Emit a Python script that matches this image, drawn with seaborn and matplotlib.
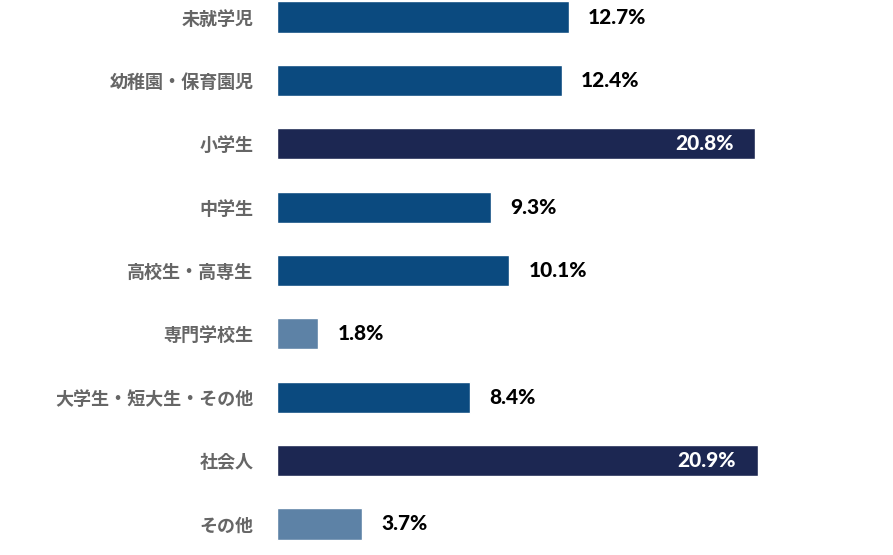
import matplotlib
matplotlib.use('Agg')
import matplotlib.pyplot as plt
import seaborn as sns
import pandas as pd

categories = ['未就学児', '幼稚園・保育園児', '小学生', '中学生', '高校生・高専生',
              '専門学校生', '大学生・短大生・その他', '社会人', 'その他']
values = [12.7, 12.4, 20.8, 9.3, 10.1, 1.8, 8.4, 20.9, 3.7]
bar_colors = ['#0b4a7f', '#0b4a7f', '#1c2752', '#0b4a7f', '#0b4a7f',
              '#5d82a6', '#0b4a7f', '#1c2752', '#5d82a6']

df = pd.DataFrame({'区分': categories, '割合': values})

sns.set_theme(style='white')
plt.rcParams['font.family'] = ['Noto Sans CJK JP', 'DejaVu Sans']

W, H = 893, 555
fig = plt.figure(figsize=(W / 100, H / 100), dpi=100)
x0 = 277
px_per = 23.0
ax = fig.add_axes([x0 / W, 0, 1 - x0 / W, 1])

sns.barplot(data=df, x='割合', y='区分', hue='区分', palette=bar_colors,
            legend=False, width=0.49, orient='h', ax=ax, saturation=1)

ax.set_xlim(0, (W - x0) / px_per)
sp = (524 - 17) / 8
ax.set_ylim(8 + (H - 524) / sp, -17 / sp)

# ラベル
for i, v in enumerate(values):
    if v > 20:
        ax.text(v - 22 / px_per, i, f'{v}%', ha='right', va='center',
                color='white', fontsize=15, fontweight='black', family='Lato')
    else:
        ax.text(v + 19 / px_per, i, f'{v}%', ha='left', va='center',
                color='black', fontsize=15, fontweight='black', family='Lato')

ax.set_xlabel('')
ax.set_ylabel('')
ax.set_xticks([])
ax.tick_params(axis='y', length=0, pad=17)
for lab in ax.get_yticklabels():
    lab.set_fontsize(13)
    lab.set_fontweight('bold')
    lab.set_color('#666666')
sns.despine(ax=ax, left=True, bottom=True)

fig.savefig('out.png', dpi=100)
